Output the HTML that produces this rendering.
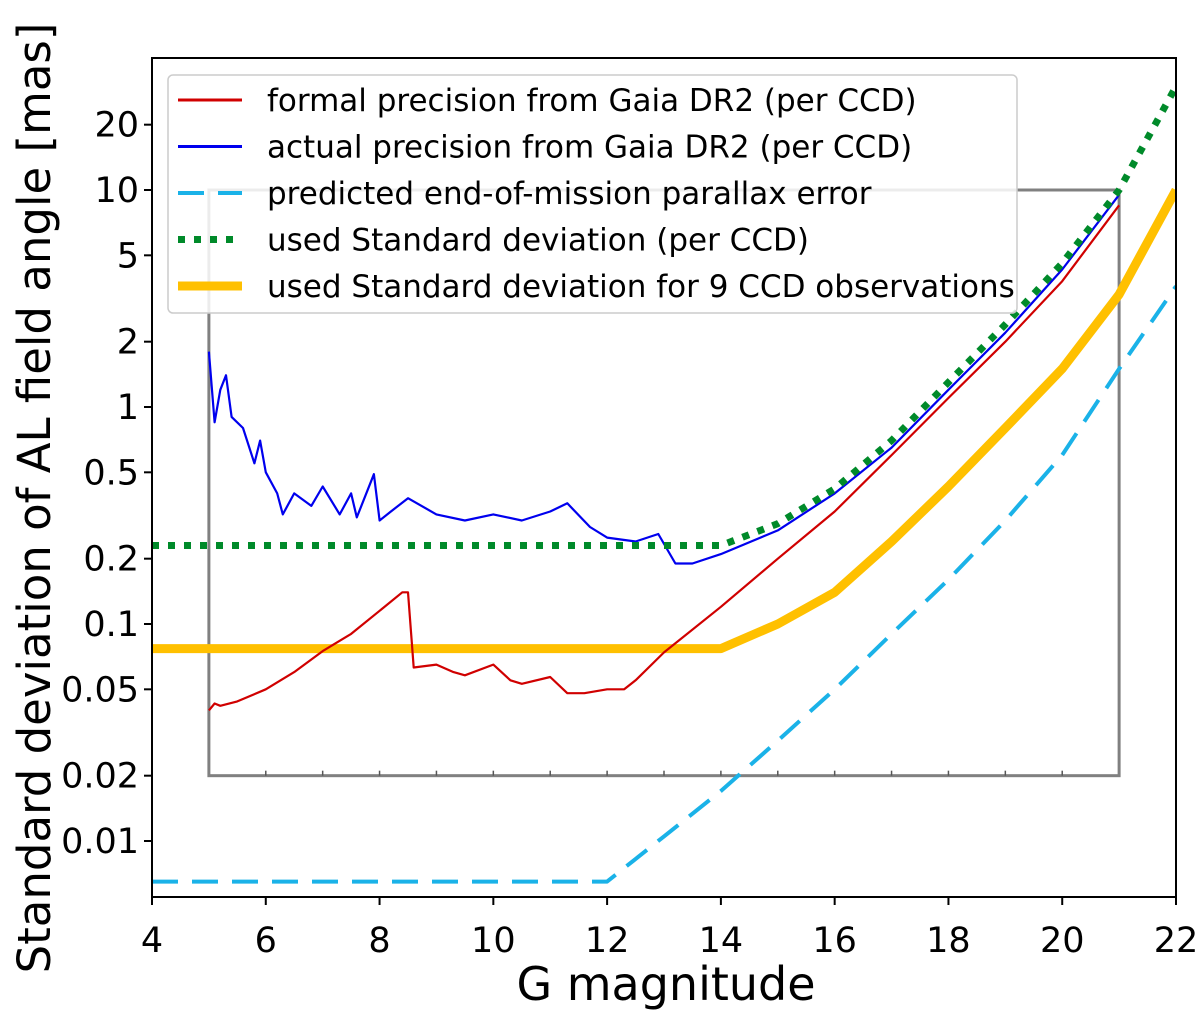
<!DOCTYPE html>
<html><head><meta charset="utf-8"><style>
body{margin:0;background:#fff}
svg text{font-family:"DejaVu Sans","Liberation Sans",sans-serif}
</style></head><body>
<svg id="chart" width="1200" height="1010" xmlns="http://www.w3.org/2000/svg"></svg>
<script>
const xTicks=[4,6,8,10,12,14,16,18,20,22];
const yTicks=[0.01,0.02,0.05,0.1,0.2,0.5,1,2,5,10,20];
const yTickLabels=["0.01","0.02","0.05","0.1","0.2","0.5","1","2","5","10","20"];
const redX=[5,5.1,5.2,5.5,6,6.5,7,7.5,8,8.4,8.5,8.6,9,9.3,9.5,10,10.3,10.5,11,11.3,11.6,12,12.3,12.5,13,14,15,16,17,18,19,20,21];
const redY=[0.04,0.043,0.042,0.044,0.05,0.06,0.075,0.09,0.115,0.14,0.14,0.063,0.065,0.06,0.058,0.065,0.055,0.053,0.057,0.048,0.048,0.05,0.05,0.055,0.074,0.12,0.2,0.33,0.6,1.1,2.0,3.8,8.5];
const blueX=[5,5.1,5.2,5.3,5.4,5.6,5.8,5.9,6,6.2,6.3,6.5,6.8,7,7.3,7.5,7.6,7.9,8,8.2,8.5,9,9.5,10,10.5,11,11.3,11.7,12,12.5,12.9,13.2,13.5,14,15,16,17,18,19,20,21];
const blueY=[1.8,0.85,1.2,1.4,0.9,0.8,0.55,0.7,0.5,0.4,0.32,0.4,0.35,0.43,0.32,0.4,0.31,0.49,0.3,0.33,0.38,0.32,0.3,0.32,0.3,0.33,0.36,0.28,0.25,0.24,0.26,0.19,0.19,0.21,0.27,0.4,0.65,1.2,2.2,4.3,9.5];
const greenX=[4,14,15,16,17,18,19,20,21,22];
const greenY=[0.23,0.23,0.29,0.42,0.7,1.3,2.4,4.6,10,30];
const yellowX=[4,14,15,16,17,18,19,20,21,22];
const yellowY=[0.077,0.077,0.1,0.14,0.24,0.43,0.8,1.5,3.3,10];
const cyanX=[4,12,13,14,15,16,17,18,19,20,21,22];
const cyanY=[0.0065,0.0065,0.0105,0.017,0.029,0.05,0.09,0.16,0.3,0.6,1.5,3.6];

const NS="http://www.w3.org/2000/svg";
const svg=document.getElementById('chart');
const X0=152,X1=1176,Y1=58,Y2=897;
const sx=v=>X0+(v-4)*(X1-X0)/18;
const sy=v=>407-217*Math.log10(v);
function mk(t,a,p){const e=document.createElementNS(NS,t);for(const k in a)e.setAttribute(k,a[k]);(p||svg).appendChild(e);return e;}
const clip=mk('clipPath',{id:'pc'});mk('rect',{x:X0,y:Y1,width:X1-X0,height:Y2-Y1},clip);
let g=mk('rect',{x:sx(5),y:sy(10),width:sx(21)-sx(5),height:sy(0.02)-sy(10),fill:'none',stroke:'#808080','stroke-width':3});


for(let i=6;i<=20;i++){mk('line',{x1:sx(i),x2:sx(i),y1:sy(0.02),y2:sy(0.02)-5,stroke:'#555','stroke-width':1.5});}
function series(xs,ys,color,w,dash,name){
 const d=xs.map((x,i)=>(i?'L':'M')+sx(x).toFixed(1)+','+sy(ys[i]).toFixed(1)).join('');
 const p=mk('path',{d:d,fill:'none',stroke:color,'stroke-width':w,'clip-path':'url(#pc)','stroke-linejoin':'round'});
 if(dash)p.setAttribute('stroke-dasharray',dash);
 
 
}
series(cyanX,cyanY,'#1ab2e8',4,'26,14','cyan-parallax-line');
series(yellowX,yellowY,'#ffc000',9,null,'yellow-9ccd-line');
series(redX,redY,'#d00000',2.2,null,'red-formal-line');
series(blueX,blueY,'#0000ee',2.2,null,'blue-actual-line');
series(greenX,greenY,'#008a2a',7,'7,9','green-std-line');
mk('rect',{x:X0,y:Y1,width:X1-X0,height:Y2-Y1,fill:'none',stroke:'#000','stroke-width':2});
xTicks.forEach(v=>{mk('line',{x1:sx(v),x2:sx(v),y1:Y2,y2:Y2+8,stroke:'#000','stroke-width':2});
 const t=mk('text',{x:sx(v),y:952,'font-size':35,'text-anchor':'middle'});t.textContent=v;
 
 });
yTicks.forEach((v,i)=>{mk('line',{x1:X0-8,x2:X0,y1:sy(v),y2:sy(v),stroke:'#000','stroke-width':2});
 const t=mk('text',{x:X0-13,y:sy(v)+12,'font-size':35,'text-anchor':'end'});t.textContent=yTickLabels[i];
 
 });
let t=mk('text',{x:(X0+X1)/2+2,y:1000,'font-size':46,'text-anchor':'middle'});t.textContent='G magnitude';


t=mk('text',{x:0,y:0,'font-size':45,'text-anchor':'middle',transform:'translate(50,498) rotate(-90)'});t.textContent='Standard deviation of AL field angle [mas]';


const lg=mk('g',{});


mk('rect',{x:168,y:75,width:849,height:238,rx:5,fill:'#fff','fill-opacity':0.85,stroke:'#ccc','stroke-width':1.5},lg);
const L=[['formal precision from Gaia DR2 (per CCD)','#d00000',3,null],['actual precision from Gaia DR2 (per CCD)','#0000ee',3,null],['predicted end-of-mission parallax error','#1ab2e8',4,'26,14'],['used Standard deviation (per CCD)','#008a2a',7,'7,9'],['used Standard deviation for 9 CCD observations','#ffc000',9,null]];
L.forEach((e,i)=>{const y=100+i*46.5;
 const l=mk('line',{x1:178,x2:242,y1:y,y2:y,stroke:e[1],'stroke-width':e[2]},lg);if(e[3])l.setAttribute('stroke-dasharray',e[3]);
 const tt=mk('text',{x:267,y:y+11,'font-size':31},lg);tt.textContent=e[0];
 
 });
</script>
</body></html>
